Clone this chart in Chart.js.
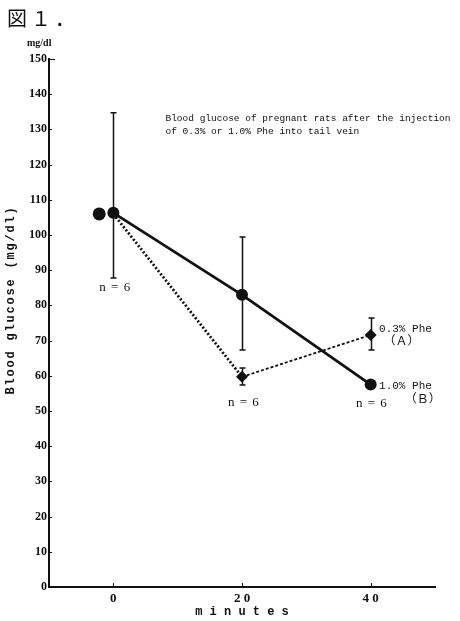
<!DOCTYPE html>
<html>
<head>
<meta charset="utf-8">
<script src="https://cdn.jsdelivr.net/npm/chart.js@4"></script>
<style>
  html, body { margin: 0; padding: 0; background: #fff; }
  #wrap { width: 460px; height: 621px; position: relative; }
</style>
</head>
<body>
<div id="wrap"><canvas id="chart"></canvas></div>
<script>
// values
const minutes = [0, 20, 40];
const glucoseA = [106, 59.7, 71.6];   // 0.3% Phe (A), dotted, diamonds
const glucoseB = [106.3, 83, 57.5];   // 1.0% Phe (B), solid, circles
const lowA = [106, 57.4, 67.3];
const highA = [106, 62.2, 76.4];
const lowB = [87.8, 67.3, 57.5];
const highB = [134.7, 99.4, 57.5];
const offsetA0 = -2.2;                // A's first marker drawn beside B's
const xTicks = [0, 20, 40];
const xTickLabels = ['0', '2 0', '4 0'];
const yTicks = [0, 10, 20, 30, 40, 50, 60, 70, 80, 90, 100, 110, 120, 130, 140, 150];
const nLabels = ['n = 6', 'n = 6', 'n = 6'];

const black = '#111';
const serif = '"Liberation Serif", "DejaVu Serif", serif';
const mono = '"Liberation Mono", "DejaVu Sans Mono", monospace';
const cjk = '"Noto Sans CJK JP", "Noto Sans CJK SC", sans-serif';

function pts(ys) {
  return minutes.map((m, i) => ({ x: m, y: ys[i] }));
}

function drawText(ctx, text, px, py, font, align) {
  ctx.font = font;
  ctx.textAlign = align || 'left';
  ctx.textBaseline = 'middle';
  ctx.fillText(text, px, py);
}

const extras = {
  id: 'extras',
  beforeDatasetsDraw(chart) {
    const { ctx, scales: { x, y } } = chart;
    ctx.save();
    ctx.strokeStyle = black;
    // small inward ticks
    ctx.lineWidth = 1;
    yTicks.forEach((v) => {
      const py = Math.round(y.getPixelForValue(v)) + 0.5;
      ctx.beginPath();
      ctx.moveTo(x.left, py);
      ctx.lineTo(x.left + (v === 150 ? 6 : 3), py);
      ctx.stroke();
    });
    xTicks.forEach((v) => {
      const px = Math.round(x.getPixelForValue(v)) + 0.5;
      ctx.beginPath();
      ctx.moveTo(px, y.bottom);
      ctx.lineTo(px, y.bottom - 4);
      ctx.stroke();
    });
    // error bars
    const bars = (lows, highs) => {
      minutes.forEach((m, i) => {
        if (highs[i] === lows[i]) return;
        const px = Math.round(x.getPixelForValue(m)) + 0.5;
        const y1 = y.getPixelForValue(highs[i]);
        const y2 = y.getPixelForValue(lows[i]);
        ctx.lineWidth = 1.5;
        ctx.beginPath();
        ctx.moveTo(px, y1);
        ctx.lineTo(px, y2);
        ctx.moveTo(px - 3, y1);
        ctx.lineTo(px + 3, y1);
        ctx.moveTo(px - 3, y2);
        ctx.lineTo(px + 3, y2);
        ctx.stroke();
      });
    };
    bars(lowB, highB);
    bars(lowA, highA);
    ctx.restore();
  },
  afterDraw(chart) {
    const { ctx, scales: { x, y } } = chart;
    ctx.save();
    ctx.fillStyle = black;
    // figure number and unit
    ctx.letterSpacing = '4px';
    drawText(ctx, '図１．', 7, 18, '20px ' + cjk);
    ctx.letterSpacing = '0px';
    drawText(ctx, 'mg/dl', 27, 43, 'bold 10px ' + serif);
    // y axis title
    ctx.save();
    ctx.translate(11, 300);
    ctx.rotate(-Math.PI / 2);
    ctx.letterSpacing = '1.8px';
    drawText(ctx, 'Blood glucose (mg/dl)', 0, 0, 'bold 12px ' + mono, 'center');
    ctx.restore();
    // caption
    drawText(ctx, 'Blood glucose of pregnant rats after the injection', x.getPixelForValue(8.1), y.getPixelForValue(133.2), '9.5px ' + mono);
    drawText(ctx, 'of 0.3% or 1.0% Phe into tail vein', x.getPixelForValue(8.1), y.getPixelForValue(129.5), '9.5px ' + mono);
    // n labels
    ctx.letterSpacing = '1px';
    drawText(ctx, nLabels[0], x.getPixelForValue(0.3), y.getPixelForValue(85), '13px ' + serif, 'center');
    drawText(ctx, nLabels[1], x.getPixelForValue(20.3), y.getPixelForValue(52.5), '13px ' + serif, 'center');
    drawText(ctx, nLabels[2], x.getPixelForValue(40.2), y.getPixelForValue(52), '13px ' + serif, 'center');
    ctx.letterSpacing = '0px';
    // series labels
    drawText(ctx, '0.3% Phe', x.getPixelForValue(41.3), y.getPixelForValue(73.3), '11px ' + mono);
    drawText(ctx, '（Ａ）', x.getPixelForValue(42.0), y.getPixelForValue(70.1), '12px ' + cjk);
    drawText(ctx, '1.0% Phe', x.getPixelForValue(41.3), y.getPixelForValue(57.1), '11px ' + mono);
    drawText(ctx, '（Ｂ）', x.getPixelForValue(45.3), y.getPixelForValue(53.7), '12px ' + cjk);
    ctx.restore();
  }
};

function makeChart() {
  const ctx = document.getElementById('chart').getContext('2d');
  return new Chart(ctx, {
    type: 'line',
    data: {
      datasets: [
        {
          label: '1.0% Phe',
          data: pts(glucoseB),
          borderColor: black,
          backgroundColor: black,
          borderWidth: 2.8,
          pointStyle: 'circle',
          pointRadius: 6,
          pointBorderWidth: 0
        },
        {
          label: '0.3% Phe',
          data: pts(glucoseA),
          borderColor: black,
          backgroundColor: black,
          borderWidth: 2.5,
          borderDash: [2, 2],
          segment: {
            borderWidth: (c) => (c.p0DataIndex === 1 ? 1.8 : 2.8),
            borderDash: (c) => (c.p0DataIndex === 1 ? [3, 2] : [2, 2])
          },
          pointStyle: 'rectRot',
          pointRadius: [0, 6, 6],
          pointBorderWidth: 0
        },
        {
          label: '0.3% Phe start',
          data: [{ x: offsetA0, y: glucoseA[0] }],
          showLine: false,
          backgroundColor: black,
          borderColor: black,
          pointStyle: 'circle',
          pointRadius: 6.5,
          pointBorderWidth: 0
        }
      ]
    },
    options: {
      responsive: false,
      animation: false,
      layout: { padding: { top: 59, right: 25, left: 0, bottom: 0 } },
      plugins: {
        legend: { display: false },
        tooltip: { enabled: false }
      },
      scales: {
        x: {
          type: 'linear',
          min: -10,
          max: 50,
          afterFit: (s) => { s.height = 34; },
          afterBuildTicks: (s) => { s.ticks = xTicks.map((v) => ({ value: v })); },
          grid: { display: true, drawOnChartArea: false, drawTicks: false },
          border: { display: true, color: black, width: 2 },
          ticks: {
            padding: 4,
            color: black,
            font: { family: serif, size: 13, weight: 'bold' },
            callback: (v) => xTickLabels[xTicks.indexOf(v)]
          },
          title: {
            display: true,
            text: 'm i n u t e s',
            color: black,
            font: { family: mono, size: 12, weight: 'bold' },
            padding: { top: 0, bottom: 2 }
          }
        },
        y: {
          min: 0,
          max: 150,
          afterFit: (s) => { s.width = 49; },
          afterBuildTicks: (s) => { s.ticks = yTicks.map((v) => ({ value: v })); },
          grid: { display: true, drawOnChartArea: false, drawTicks: false },
          border: { display: true, color: black, width: 2 },
          ticks: {
            padding: 2,
            color: black,
            font: { family: serif, size: 12, weight: 'bold' }
          }
        }
      }
    },
    plugins: [extras]
  });
}

document.addEventListener('DOMContentLoaded', () => {
  const canvas = document.getElementById('chart');
  canvas.width = 460;
  canvas.height = 621;
  makeChart();
});
</script>
</body>
</html>
